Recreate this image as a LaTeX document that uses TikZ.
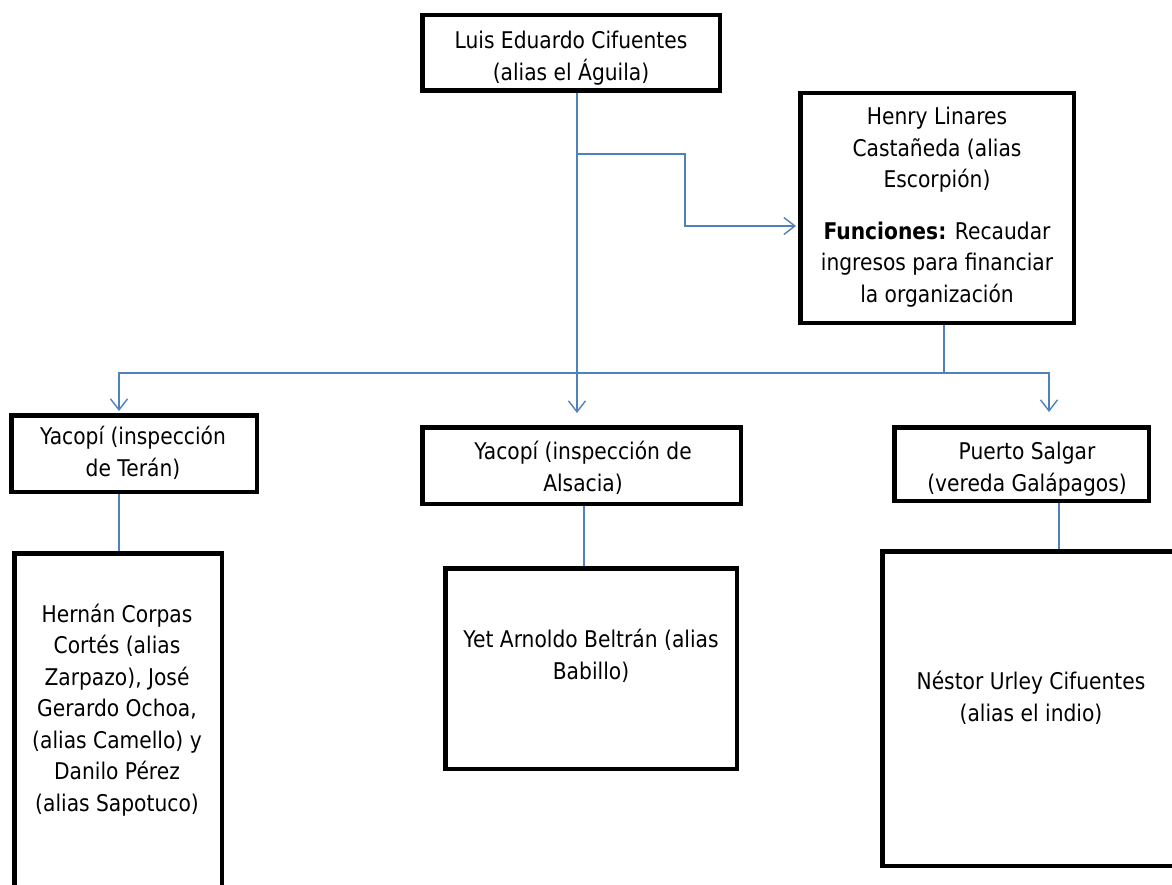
\documentclass[tikz,border=0pt]{standalone}
\usepackage{fontspec}
\setmainfont{DejaVu Sans}[FakeStretch=0.88]
\usetikzlibrary{arrows.meta}
\definecolor{linkblue}{RGB}{79,129,189}
\begin{document}
\begin{tikzpicture}[x=1pt,y=-1pt,
  box/.style={draw=black, line width=4.5pt, inner sep=0pt, rectangle},
  txt/.style={align=center, inner sep=0pt, font=\fontsize{23}{31.5}\selectfont},
  conn/.style={draw=linkblue, line width=1.4pt},
  tip/.style={-{Straight Barb[length=11pt,width=17pt]}},
  twotip/.style={{Straight Barb[length=11pt,width=17pt]}-{Straight Barb[length=11pt,width=17pt]}}
]
\useasboundingbox (0,0) rectangle (1172,885);
\fill[white] (0,0) rectangle (1172,885);
\clip (0,0) rectangle (1172,885);

% boxes
\node[box, minimum width=297.5pt, minimum height=75.5pt]  (top)     at (571,53)     {};
\node[box, minimum width=273.5pt, minimum height=229.5pt] (henry)   at (937,208)    {};
\node[box, minimum width=245.5pt, minimum height=76.5pt]  (teran)   at (134,453.5)  {};
\node[box, minimum width=318.5pt, minimum height=76.5pt]  (alsacia) at (581.5,465.5){};
\node[box, minimum width=254.5pt, minimum height=73.5pt]  (puerto)  at (1021.5,464) {};
\node[box, minimum width=207.5pt, minimum height=349.5pt] (hernan)  at (118,728)    {};
\node[box, minimum width=291.5pt, minimum height=200.5pt] (yet)     at (591,668.5)  {};
\node[box, minimum width=297.5pt, minimum height=314.5pt] (nestor)  at (1031,708.5) {};

% texts
\node[txt] (top-t) at (571,58) {Luis Eduardo Cifuentes\\(alias el Águila)};
\node[txt] (henry-t) at (937,207) {Henry Linares\\Castañeda (alias\\Escorpión)\\[20pt]\textbf{Funciones:} Recaudar\\ingresos para financiar\\la organización};
\node[txt] (teran-t) at (133,453) {Yacopí (inspección\\de Terán)};
\node[txt] (alsacia-t) at (583,468) {Yacopí (inspección de\\Alsacia)};
\node[txt] (puerto-t) at (1027,469) {Puerto Salgar\\(vereda Galápagos)};
\node[txt] (hernan-t) at (117,710) {Hernán Corpas\\Cortés (alias\\Zarpazo), José\\Gerardo Ochoa,\\(alias Camello) y\\Danilo Pérez\\(alias Sapotuco)};
\node[txt] (yet-t) at (591,656) {Yet Arnoldo Beltrán (alias\\Babillo)};
\node[txt] (nestor-t) at (1031,698) {Néstor Urley Cifuentes\\(alias el indio)};

% connector positions
\coordinate (spine) at (577,0);
\coordinate (b1) at (577,154);
\coordinate (b2) at (685,226);
\coordinate (hx) at (944,0);
\coordinate (busL) at (119,373);
\coordinate (busR) at (1049,373);
\coordinate (c2) at (584,0);
\coordinate (c3) at (1059,0);

% connectors
\draw[conn, tip, shorten >=12pt] (top.south -| spine) -- (alsacia.north -| spine);
\draw[conn, tip, shorten >=2pt] (b1) -| (b2) -- (henry.west |- b2);
\draw[conn] (henry.south -| hx) -- (hx |- busL);
\draw[conn, twotip, shorten <=2pt, shorten >=13pt] (teran.north -| busL) |- (busR) -- (puerto.north -| busR);
\draw[conn] (teran.south -| busL) -- (hernan.north -| busL);
\draw[conn] (alsacia.south -| c2) -- (yet.north -| c2);
\draw[conn] (puerto.south -| c3) -- (nestor.north -| c3);
\end{tikzpicture}
\end{document}
